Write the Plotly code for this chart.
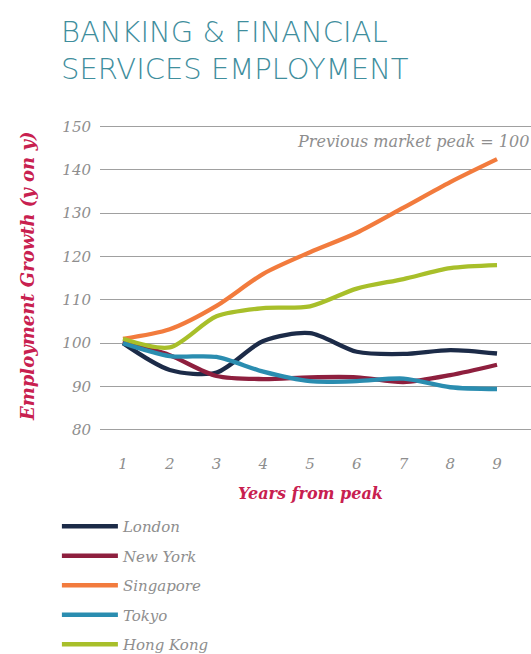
import plotly.graph_objects as go

years = [1, 2, 3, 4, 5, 6, 7, 8, 9]
london = [100, 93.8, 93.2, 100.5, 102.3, 98.0, 97.5, 98.4, 97.6]
new_york = [100.5, 97.2, 92.4, 91.7, 92.1, 92.1, 91.0, 92.6, 95.0]
singapore = [101, 103.2, 108.6, 116.0, 121.0, 125.5, 131.3, 137.2, 142.5]
tokyo = [100, 97.0, 96.8, 93.4, 91.2, 91.2, 91.8, 89.8, 89.4]
hong_kong = [101, 99.0, 106.2, 108.1, 108.5, 112.6, 114.8, 117.3, 118.0]

series = [
    ("London", london, "#1c2b48"),
    ("New York", new_york, "#8e1f3e"),
    ("Singapore", singapore, "#f27b3d"),
    ("Tokyo", tokyo, "#2a8db0"),
    ("Hong Kong", hong_kong, "#a8bf2a"),
]

serif = "DejaVu Serif"
gray = "#8e8e8e"
crimson = "#c8204f"
title_font = dict(family="DejaVu Sans", size=29, color="#3f8e9d", weight=300)

fig = go.Figure()
for name, vals, col in series:
    fig.add_trace(go.Scatter(
        x=years, y=vals, name=name, mode="lines",
        line=dict(color=col, width=4.3, shape="spline", smoothing=0.8),
        legendgroup=name,
    ))

fig.update_layout(
    width=531, height=654,
    margin=dict(l=100, r=0, t=118, b=207, autoexpand=False),
    paper_bgcolor="white", plot_bgcolor="white",
    xaxis=dict(
        range=[0.508, 9.727], tickvals=years, ticktext=[str(v) for v in years],
        showgrid=False, zeroline=False, showline=False,
        ticks="outside", ticklen=3, tickcolor="rgba(0,0,0,0)",
        tickfont=dict(family=serif, size=15, color=gray, style="italic"),
    ),
    yaxis=dict(
        range=[76, 152], tickvals=[80, 90, 100, 110, 120, 130, 140, 150],
        showgrid=True, gridcolor="#a0a0a0", gridwidth=1.3,
        zeroline=False, showline=False,
        ticks="outside", ticklen=5, tickcolor="rgba(0,0,0,0)",
        tickfont=dict(family=serif, size=15, color=gray, style="italic"),
    ),
    legend=dict(
        orientation="v", x=-0.10, xanchor="left",
        yref="container", y=1 - 510 / 654, yanchor="top",
        font=dict(family=serif, size=15, color=gray, style="italic"),
        tracegroupgap=7, itemwidth=56, bgcolor="rgba(0,0,0,0)",
    ),
    showlegend=True,
    annotations=[
        dict(text="BANKING &amp; FINANCIAL", xref="paper", yref="paper",
             x=-(100 - 59) / 431, y=(447 - 32) / 329, xanchor="left", yanchor="middle",
             showarrow=False, font=title_font),
        dict(text="SERVICES EMPLOYMENT", xref="paper", yref="paper",
             x=-(100 - 59) / 431, y=(447 - 69) / 329, xanchor="left", yanchor="middle",
             showarrow=False, font=title_font),
        dict(text="Previous market peak = 100", xref="paper", yref="y",
             x=1, y=146.6, xanchor="right", yanchor="middle", showarrow=False,
             font=dict(family=serif, size=16, color=gray, style="italic")),
        dict(text="<b>Employment Growth (y on y)</b>", xref="paper", yref="paper",
             x=-(100 - 27) / 431, y=(447 - 277) / 329, xanchor="center", yanchor="middle",
             textangle=-90, showarrow=False,
             font=dict(family=serif, size=18, color=crimson, style="italic")),
        dict(text="<b>Years from peak</b>", xref="paper", yref="paper",
             x=(310 - 100) / 431, y=-(493 - 447) / 329, xanchor="center", yanchor="middle",
             showarrow=False,
             font=dict(family=serif, size=16, color=crimson, style="italic")),
    ],
)

fig.write_html("out.html")
